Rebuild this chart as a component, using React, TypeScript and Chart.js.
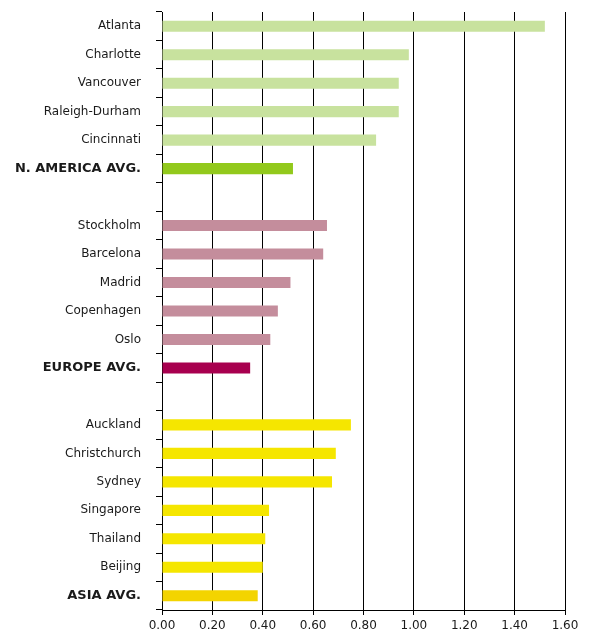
import React, { useEffect, useRef } from "react";
import { Chart, registerables } from "chart.js";

Chart.register(...registerables);

const categories = [
  "Atlanta", "Charlotte", "Vancouver", "Raleigh-Durham", "Cincinnati", "N. AMERICA AVG.",
  "",
  "Stockholm", "Barcelona", "Madrid", "Copenhagen", "Oslo", "EUROPE AVG.",
  " ",
  "Auckland", "Christchurch", "Sydney", "Singapore", "Thailand", "Beijing", "ASIA AVG.",
];

const values: (number | null)[] = [
  1.52, 0.98, 0.94, 0.94, 0.85, 0.52,
  null,
  0.655, 0.64, 0.51, 0.46, 0.43, 0.35,
  null,
  0.75, 0.69, 0.675, 0.425, 0.41, 0.40, 0.38,
];

const barColors = [
  "#c8e29e", "#c8e29e", "#c8e29e", "#c8e29e", "#c8e29e", "#92c91c",
  "#ffffff",
  "#c48d9c", "#c48d9c", "#c48d9c", "#c48d9c", "#c48d9c", "#a8004f",
  "#ffffff",
  "#f5e600", "#f5e600", "#f5e600", "#f5e600", "#f5e600", "#f5e600", "#f3d400",
];

const boldLabels = ["N. AMERICA AVG.", "EUROPE AVG.", "ASIA AVG."];

const xTicks = [0, 0.2, 0.4, 0.6, 0.8, 1.0, 1.2, 1.4, 1.6];

export default function App() {
  const ref = useRef<HTMLCanvasElement | null>(null);
  useEffect(() => {
    document.body.style.margin = "0";
    const chart = new Chart(ref.current!, {
      type: "bar",
      data: {
        labels: categories,
        datasets: [
          {
            data: values,
            backgroundColor: barColors,
            barPercentage: 0.39,
            categoryPercentage: 1,
            borderWidth: 0,
          },
        ],
      },
      options: {
        indexAxis: "y",
        animation: false,
        responsive: false,
        maintainAspectRatio: false,
        layout: { padding: { top: 12, right: 31, left: 0, bottom: 0 } },
        plugins: { legend: { display: false }, tooltip: { enabled: false } },
        scales: {
          x: {
            min: 0,
            max: 1.6,
            afterBuildTicks: (s: any) => {
              s.ticks = xTicks.map((v) => ({ value: v }));
            },
            afterFit: (s: any) => {
              s.height = 27;
              s.paddingLeft = 0;
              s.paddingRight = 0;
            },
            grid: { color: "#000", lineWidth: 1, tickLength: 5, drawTicks: true },
            border: { color: "#000", width: 1 },
            ticks: {
              color: "#1a1a1a",
              padding: 4,
              maxRotation: 0,
              autoSkip: false,
              font: { family: "DejaVu Sans", size: 12 },
              callback: (v: any) => Number(v).toFixed(2),
            },
          },
          y: {
            afterFit: (s: any) => {
              s.width = 162;
              s.paddingTop = 0;
              s.paddingBottom = 0;
            },
            grid: { display: true, drawOnChartArea: false, color: "#000", tickLength: 6, offset: true },
            border: { color: "#000", width: 1 },
            ticks: {
              color: "#1a1a1a",
              padding: 15,
              autoSkip: false,
              font: (ctx: any) => {
                const lbl = categories[ctx.index];
                return boldLabels.includes(lbl)
                  ? { family: "DejaVu Sans", size: 13, weight: "bold" }
                  : { family: "DejaVu Sans", size: 12 };
              },
              callback: (_v: any, i: number) => categories[i],
            },
          },
        },
      },
    });
    return () => chart.destroy();
  }, []);
  return <canvas ref={ref} width={596} height={637} style={{ display: "block" }} />;
}
